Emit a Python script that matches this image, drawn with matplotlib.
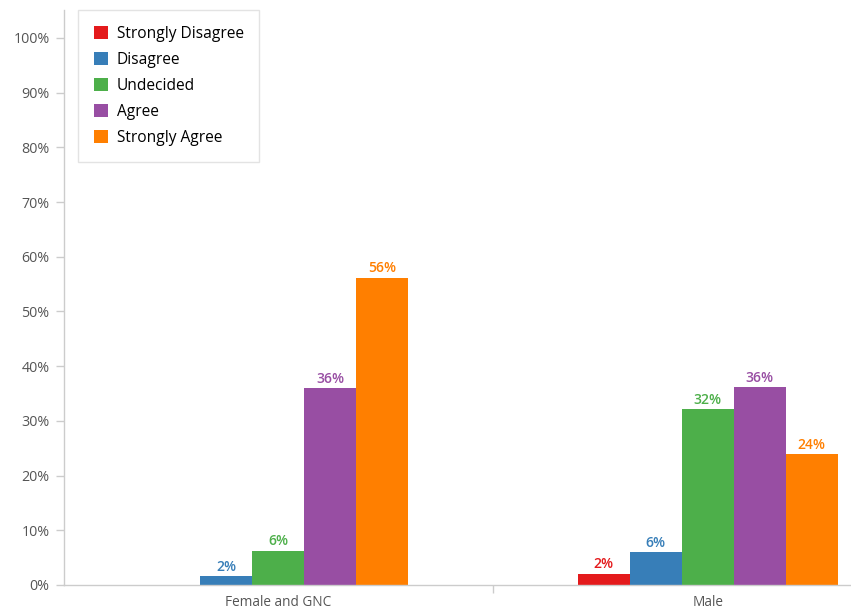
import matplotlib.pyplot as plt
import numpy as np

plt.rcParams['font.family'] = ['Open Sans', 'DejaVu Sans']

groups = ['Female and GNC', 'Male']
answers = ['Strongly Disagree', 'Disagree', 'Undecided', 'Agree', 'Strongly Agree']
colors = ['#e41a1c', '#377eb8', '#4daf4a', '#984ea3', '#ff7f00']

# percent per answer, [female, male]
strongly_disagree = [0.0, 2.1]
disagree = [1.65, 6.0]
undecided = [6.3, 32.2]
agree = [36.0, 36.1]
strongly_agree = [56.2, 24.0]
series = [strongly_disagree, disagree, undecided, agree, strongly_agree]

W, H = 851, 612
fig = plt.figure(figsize=(W / 100, H / 100), dpi=100)
ax = fig.add_axes([63.5 / W, 27 / H, 859 / W, 575 / H])

x = np.arange(len(groups))
bw = 0.121
for i, (name, vals, c) in enumerate(zip(answers, series, colors)):
    pos = x + (i - 2) * bw
    ax.bar(pos, vals, width=bw, color=c, label=name, linewidth=0)
    for p, v in zip(pos, vals):
        if v > 0:
            ax.annotate(f'{round(v):.0f}%', (p, v), xytext=(0, 1.5),
                        textcoords='offset points', ha='center', va='bottom',
                        fontsize=10, fontweight='semibold', color=c)

ax.set_xlim(-0.5, 1.5)
ax.set_ylim(0, 105.1)
ax.set_yticks(range(0, 101, 10))
ax.set_yticklabels([f'{t}%' for t in range(0, 101, 10)])
ax.set_xticks(x)
ax.set_xticklabels(groups)
ax.set_xticks([0.5], minor=True)
ax.tick_params(axis='x', which='major', length=0, pad=7, labelsize=9.8, labelcolor='#555555')
ax.tick_params(axis='x', which='minor', length=6, color='#cccccc', width=1)
ax.tick_params(axis='y', length=6, color='#cccccc', width=1, labelsize=10.3,
               labelcolor='#555555', pad=4)

for s in ['top', 'right']:
    ax.spines[s].set_visible(False)
for s in ['left', 'bottom']:
    ax.spines[s].set_color('#cccccc')
    ax.spines[s].set_linewidth(1)

leg = ax.legend(loc='upper left', bbox_to_anchor=(78 / W, 1 - 10 / H),
                bbox_transform=fig.transFigure, frameon=True, fancybox=False,
                fontsize=11.2, handlelength=0.9, handleheight=0.9,
                handletextpad=0.6, labelspacing=0.65, borderpad=1.0,
                borderaxespad=0)
leg.get_frame().set_edgecolor('#dddddd')
leg.get_frame().set_linewidth(1)

fig.savefig('out.png', dpi=100)
